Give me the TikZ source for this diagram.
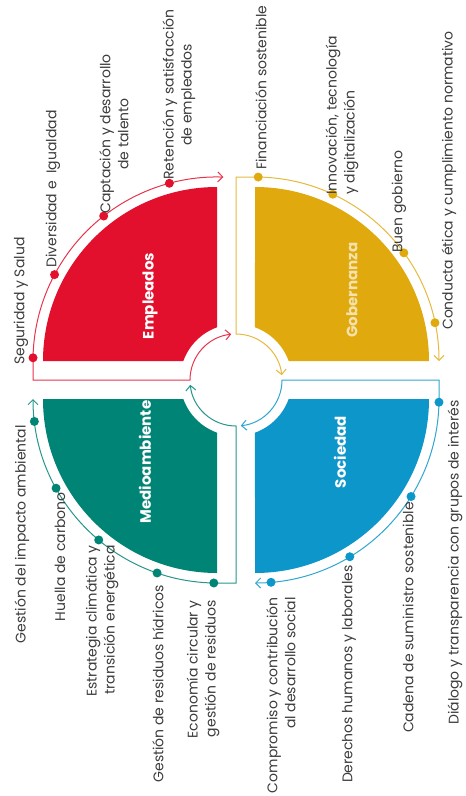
\documentclass[tikz,border=0pt]{standalone}
\usepackage{fontspec}
\setmainfont{Poppins}
\usetikzlibrary{calc,arrows.meta}

\definecolor{empleadosc}{RGB}{226,16,44}
\definecolor{gobernanzac}{RGB}{224,169,14}
\definecolor{sociedadc}{RGB}{13,150,201}
\definecolor{medioc}{RGB}{0,132,118}
\definecolor{labelc}{RGB}{60,60,60}

\begin{document}
\begin{tikzpicture}[x=1pt,y=1pt,
  track/.style={line width=1pt,{Straight Barb[length=5pt,width=10pt]}-{Straight Barb[length=5pt,width=10pt]}},
  dot/.style={circle,fill=#1,inner sep=0pt,minimum size=9pt},
  lab/.style={rotate=90,font=\fontsize{14}{18}\selectfont,text=labelc,inner sep=0pt},
  title/.style={rotate=90,font=\fontsize{15}{18}\selectfont\bfseries,text=white}]
\useasboundingbox (0,0) rectangle (466,-796);

\coordinate (c) at (236,-380);
\coordinate (cE) at (217,-361);
\coordinate (cG) at (255,-361);
\coordinate (cS) at (255,-399);
\coordinate (cM) at (217,-399);

\fill[empleadosc] ($(cE)+(90:174)$) arc[start angle=90,end angle=180,radius=174] -- ($(c)+(160.17:56)$) arc[start angle=160.17,end angle=109.83,radius=56] -- cycle;
\fill[gobernanzac] ($(cG)+(0:174)$) arc[start angle=0,end angle=90,radius=174] -- ($(c)+(70.17:56)$) arc[start angle=70.17,end angle=19.83,radius=56] -- cycle;
\fill[sociedadc] ($(cS)+(270:174)$) arc[start angle=270,end angle=360,radius=174] -- ($(c)+(-19.83:56)$) arc[start angle=-19.83,end angle=-70.17,radius=56] -- cycle;
\fill[medioc] ($(cM)+(180:174)$) arc[start angle=180,end angle=270,radius=174] -- ($(c)+(-109.83:56)$) arc[start angle=-109.83,end angle=-160.17,radius=56] -- cycle;

\draw[track,empleadosc!85] ($(c)+(96:46)$) arc[start angle=96,end angle=180,radius=46] -- (33,-380) -- ($(cE)+(180:184)$) arc[start angle=180,end angle=88,radius=184];
\draw[track,gobernanzac!80] ($(c)+(6:46)$) arc[start angle=6,end angle=90,radius=46] -- (236,-177) -- ($(cG)+(90:184)$) arc[start angle=90,end angle=0,radius=184];
\draw[track,sociedadc!85] ($(c)+(-84:46)$) arc[start angle=-84,end angle=0,radius=46] -- (439,-380) -- ($(cS)+(0:184)$) arc[start angle=0,end angle=-90,radius=184];
\draw[track,medioc!85] ($(c)+(186:46)$) arc[start angle=186,end angle=270,radius=46] -- (236,-583) -- ($(cM)+(270:184)$) arc[start angle=270,end angle=180,radius=184];

\node[dot=empleadosc] (e1) at ($(cE)+(179:184)$) {};
\node[dot=empleadosc] (e2) at ($(cE)+(152:184)$) {};
\node[dot=empleadosc] (e3) at ($(cE)+(128:184)$) {};
\node[dot=empleadosc] (e4) at ($(cE)+(105:184)$) {};

\node[dot=gobernanzac] (g1) at ($(cG)+(89:184)$) {};
\node[dot=gobernanzac] (g2) at ($(cG)+(65:184)$) {};
\node[dot=gobernanzac] (g3) at ($(cG)+(36:184)$) {};
\node[dot=gobernanzac] (g4) at ($(cG)+(12:184)$) {};

\node[dot=sociedadc] (s1) at ($(cS)+(-1:184)$) {};
\node[dot=sociedadc] (s2) at ($(cS)+(-32:184)$) {};
\node[dot=sociedadc] (s3) at ($(cS)+(-59:184)$) {};
\node[dot=sociedadc] (s4) at ($(cS)+(-85:184)$) {};

\node[dot=medioc] (m1) at ($(cM)+(187:184)$) {};
\node[dot=medioc] (m2) at ($(cM)+(209:184)$) {};
\node[dot=medioc] (m3) at ($(cM)+(230:184)$) {};
\node[dot=medioc] (m4) at ($(cM)+(251:184)$) {};
\node[dot=medioc] (m5) at ($(cM)+(269:184)$) {};

\node[title] (tE) at (150,-296) {Empleados};
\node[title,text=gobernanzac!35] (tG) at (352,-290) {Gobernanza};
\node[title] (tS) at (340,-452) {Sociedad};
\node[title] (tM) at (145,-462) {Medioambiente};

\node[lab,anchor=west] (le1) at (21,-365) {Seguridad y Salud};
\node[lab,anchor=west] (le2) at (53,-268) {Diversidad e\ \ Igualdad};
\node[lab,anchor=west,align=center] (le3) at (114,-214) {Captación y desarrollo\\de talento};
\node[lab,anchor=west,align=center] (le4) at (179,-180) {Retención y satisfacción\\de empleados};

\node[lab,anchor=west] (lg1) at (261,-170) {Financiación sostenible};
\node[lab,anchor=west,align=left] (lg2) at (342,-195) {Innovación, tecnología\\y digitalización};
\node[lab,anchor=west] (lg3) at (399,-253) {Buen gobierno};
\node[lab,anchor=west] (lg4) at (449,-330) {Conducta ética y cumplimiento normativo};

\node[lab,anchor=east] (ls1) at (455,-400) {Diálogo y transparencia con grupos de interés};
\node[lab,anchor=east] (ls2) at (408,-502) {Cadena de suministro sostenible};
\node[lab,anchor=east] (ls3) at (349,-565) {Derechos humanos y laborales};
\node[lab,anchor=east,align=right] (ls4) at (281,-597) {Compromiso y contribución\\al desarrollo social};

\node[lab,anchor=east] (lm1) at (22,-425) {Gestión del impacto ambiental};
\node[lab,anchor=east] (lm2) at (60,-492) {Huella de carbono};
\node[lab,anchor=east,align=right] (lm3) at (102,-545) {Estrategia climática y\\transición energética};
\node[lab,anchor=east] (lm4) at (158,-585) {Gestión de residuos hídricos};
\node[lab,anchor=east,align=right] (lm5) at (203,-600) {Economía circular y\\gestión de residuos};
\end{tikzpicture}
\end{document}
